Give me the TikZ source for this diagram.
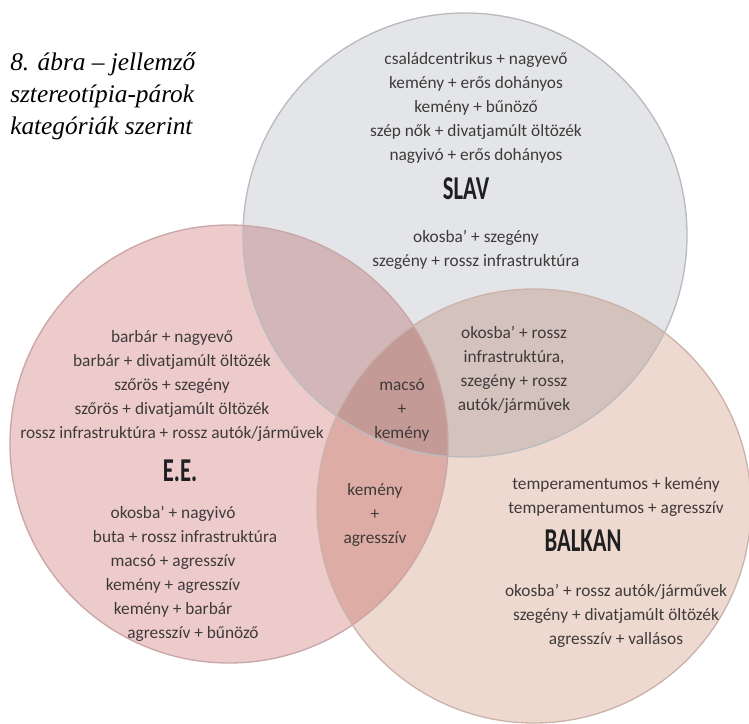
\documentclass[tikz,border=0pt]{standalone}
\usepackage{fontspec}
\usepackage{graphicx}
\setmainfont{Carlito}
\newfontfamily\figtitlefont{Liberation Serif}[Ligatures=TeX]
\definecolor{slavfill}{HTML}{E4E5E8}
\definecolor{eefill}{HTML}{EDCBCB}
\definecolor{balkanfill}{HTML}{EED9D0}
\definecolor{slavedge}{HTML}{BBBBBF}
\definecolor{eeedge}{HTML}{C9A6A7}
\definecolor{balkanedge}{HTML}{CBB3AB}
\definecolor{pairtext}{HTML}{3F3A3A}
\tikzset{
  setedge/.style={line width=1pt},
  pairs/.style={font=\fontsize{13}{18}\selectfont, text=pairtext, align=center, inner sep=0pt},
  setname/.style={font=\fontsize{25}{25}\selectfont\bfseries, text=black!88, inner sep=0pt}
}
\newcommand{\narrow}[1]{\scalebox{0.68}[1]{#1}}
\begin{document}
\begin{tikzpicture}[x=0.75pt,y=-0.75pt]
\useasboundingbox (0,0) rectangle (749,724);
% the three sets
\begin{scope}[blend group=multiply]
\fill[slavfill] (465,235) circle[radius=222];
\fill[eefill] (229,444) circle[radius=219];
\fill[balkanfill] (534,506) circle[radius=217];
\end{scope}
\draw[setedge,slavedge] (465,235) circle[radius=222];
\draw[setedge,eeedge] (229,444) circle[radius=219];
\draw[setedge,balkanedge] (534,506) circle[radius=217];
% caption
\node[anchor=north west, align=left, inner sep=0pt,
  font=\figtitlefont\itshape\fontsize{19}{24}\selectfont] (caption) at (10,52)
  {8. ábra – jellemző\\sztereotípia-párok\\kategóriák szerint};
% SLAV
\node[pairs] (slavtop) at (476,108) {családcentrikus + nagyevő\\kemény + erős dohányos\\kemény + bűnöző\\szép nők + divatjamúlt öltözék\\nagyivó + erős dohányos};
\node[setname] (slav) at (466,189) {\narrow{SLAV}};
\node[pairs] (slavbot) at (476,250) {okosba' + szegény\\szegény + rossz infrastruktúra};
% E.E.
\node[pairs] (eetop) at (172,386) {barbár + nagyevő\\barbár + divatjamúlt öltözék\\szőrös + szegény\\szőrös + divatjamúlt öltözék\\rossz infrastruktúra + rossz autók/járművek};
\node[setname] (ee) at (180,471) {\narrow{E.E.}};
\node[pairs] (eebot) at (173,574) {okosba' + nagyivó\\\hspace*{18pt}buta + rossz infrastruktúra\\macsó + agresszív\\kemény + agresszív\\kemény + barbár\\\hspace*{30pt}agresszív + bűnöző};
% BALKAN
\node[pairs] (balkantop) at (616,497) {temperamentumos + kemény\\temperamentumos + agresszív};
\node[setname] (balkan) at (583,541) {\narrow{BALKAN}};
\node[pairs] (balkanbot) at (616,616) {okosba' + rossz autók/járművek\\szegény + divatjamúlt öltözék\\agresszív + vallásos};
% overlaps
\node[pairs] (slavbalkan) at (514,370) {okosba' + rossz\\infrastruktúra,\\szegény + rossz\\autók/járművek};
\node[pairs] (allthree) at (402,410) {macsó\\+\\kemény};
\node[pairs] (eebalkan) at (375,515) {kemény\\+\\agresszív};
\end{tikzpicture}
\end{document}
